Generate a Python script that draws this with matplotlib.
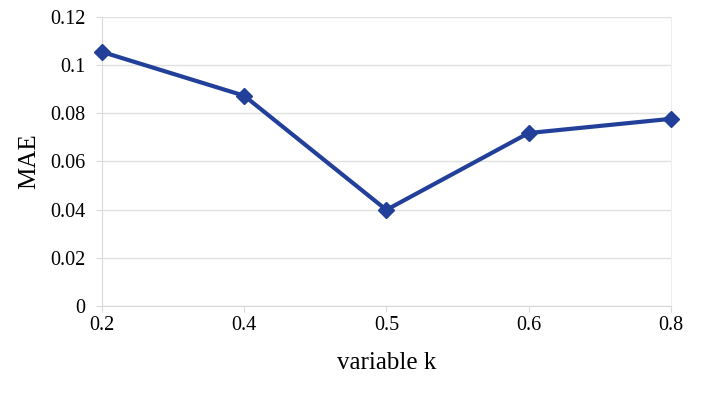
import numpy as np
import matplotlib.pyplot as plt

## Datos
k_labels = ['0.2', '0.4', '0.5', '0.6', '0.8']
mae = [0.1055, 0.0873, 0.0399, 0.0718, 0.0777]
y_ticks = [0, 0.02, 0.04, 0.06, 0.08, 0.1, 0.12]
y_tick_labels = ['0', '0.02', '0.04', '0.06', '0.08', '0.1', '0.12']

plt.rcParams['font.family'] = ['Liberation Serif', 'DejaVu Serif']

fig = plt.figure(figsize=(7.06, 3.94), dpi=100)
ax = fig.add_axes([0.1445, 0.2234, 0.8055, 0.7335])

x = np.arange(len(k_labels))
ax.plot(x, mae, color='#22409a', linewidth=3, marker='D', markersize=8.5,
        clip_on=False, zorder=3)

ax.set_xlim(0, len(k_labels) - 1)
ax.set_ylim(0, 0.12)
ax.set_xticks(x)
ax.set_xticklabels(k_labels)
ax.set_yticks(y_ticks)
ax.set_yticklabels(y_tick_labels)

## Rejilla y ejes
ax.grid(axis='y', color='#e0e0e0', linewidth=1)
ax.set_axisbelow(True)
ax.spines['top'].set_visible(False)
ax.spines['right'].set_color('#eeeeee')
ax.spines['left'].set_color('#d9d9d9')
ax.spines['bottom'].set_color('#d9d9d9')
ax.tick_params(axis='both', labelsize=14.5, colors='#d9d9d9', labelcolor='black',
               length=4)
ax.tick_params(axis='y', pad=8)

ax.set_xlabel('variable k', fontsize=18, labelpad=12)
ax.set_ylabel('MAE', fontsize=18, labelpad=7)

plt.savefig('out.png', dpi=100)
